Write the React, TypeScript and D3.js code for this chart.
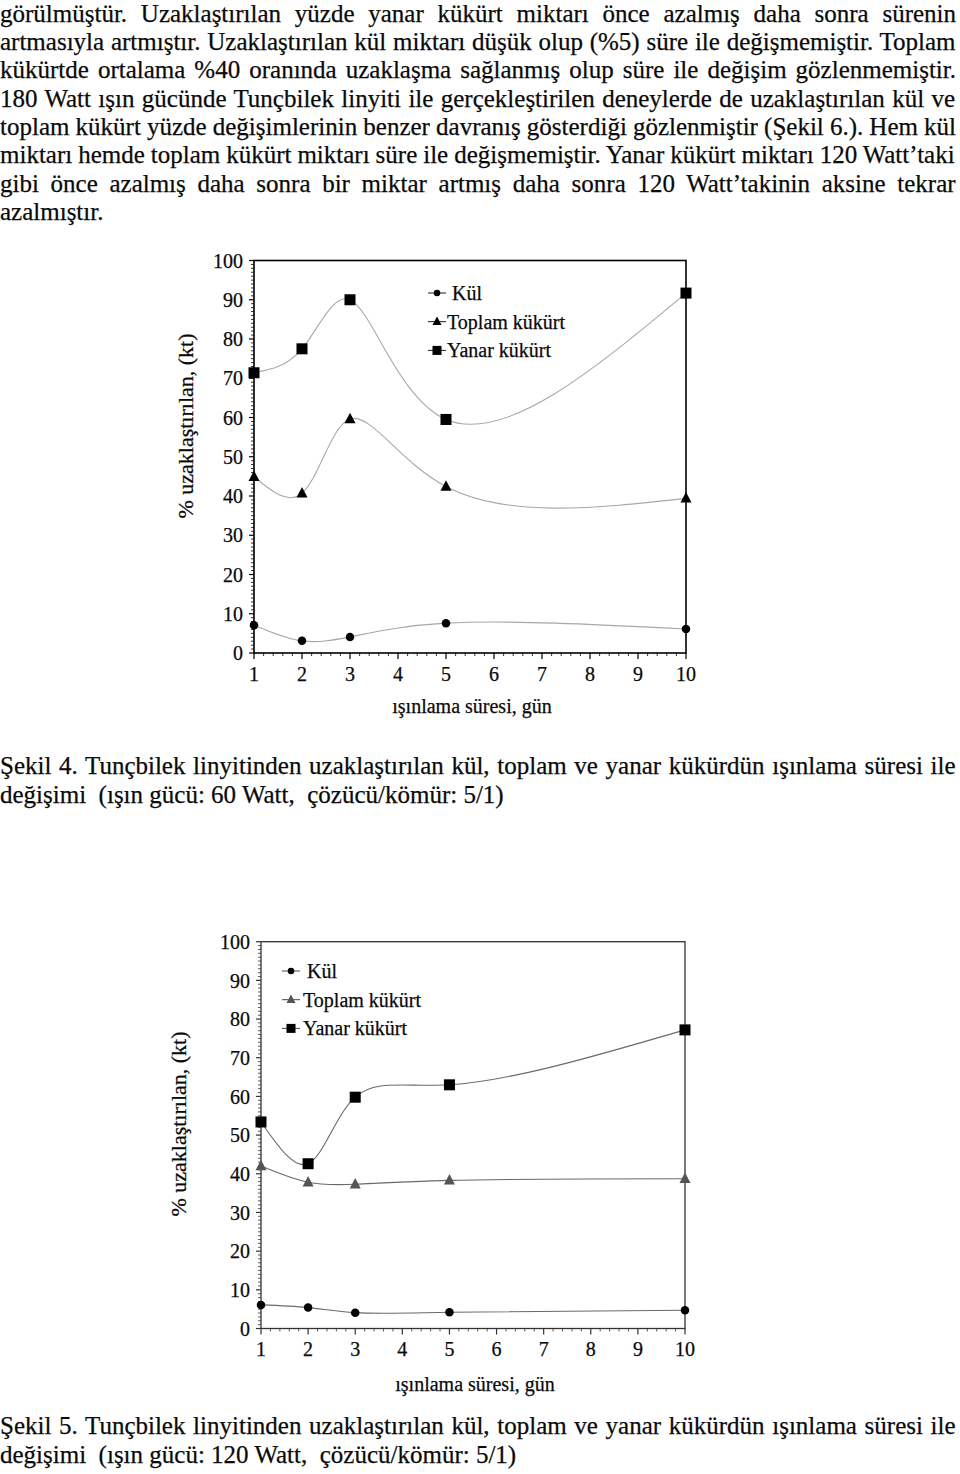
import React from 'react';
import * as d3 from 'd3';

// ---------- text ----------
const paragraphLines = [
  'görülmüştür. Uzaklaştırılan yüzde yanar kükürt miktarı önce azalmış daha sonra sürenin',
  'artmasıyla artmıştır. Uzaklaştırılan kül miktarı düşük olup (%5) süre ile değişmemiştir. Toplam',
  'kükürtde ortalama %40 oranında uzaklaşma sağlanmış olup süre ile değişim gözlenmemiştir.',
  '180 Watt ışın gücünde Tunçbilek linyiti ile gerçekleştirilen deneylerde de uzaklaştırılan kül ve',
  'toplam kükürt yüzde değişimlerinin benzer davranış gösterdiği gözlenmiştir (Şekil 6.). Hem kül',
  'miktarı hemde toplam kükürt miktarı süre ile değişmemiştir. Yanar kükürt miktarı 120 Watt’taki',
  'gibi önce azalmış daha sonra bir miktar artmış daha sonra 120 Watt’takinin aksine tekrar',
  'azalmıştır.',
];
const caption4 = [
  'Şekil 4. Tunçbilek linyitinden uzaklaştırılan kül, toplam ve yanar kükürdün ışınlama süresi ile',
  'değişimi  (ışın gücü: 60 Watt,  çözücü/kömür: 5/1)',
];
const caption5 = [
  'Şekil 5. Tunçbilek linyitinden uzaklaştırılan kül, toplam ve yanar kükürdün ışınlama süresi ile',
  'değişimi  (ışın gücü: 120 Watt,  çözücü/kömür: 5/1)',
];

// ---------- data ----------
const days = [1, 2, 3, 5, 10];
const xTicks = [1, 2, 3, 4, 5, 6, 7, 8, 9, 10];
const yTicks = [0, 10, 20, 30, 40, 50, 60, 70, 80, 90, 100];
const legendLabels = ['Kül', 'Toplam kükürt', 'Yanar kükürt'];
const xTitle = 'ışınlama süresi, gün';
const yTitle = '% uzaklaştırılan, (kt)';

// Şekil 4 (60 Watt)
const kul60 = [7.1, 3.1, 4.1, 7.6, 6.1];
const toplam60 = [44.9, 40.7, 59.6, 42.4, 39.4];
const yanar60 = [71.4, 77.5, 90.0, 59.5, 91.7];

// Şekil 5 (120 Watt)
const kul120 = [6.1, 5.4, 4.1, 4.2, 4.7];
const toplam120 = [42.0, 37.8, 37.3, 38.3, 38.7];
const yanar120 = [53.4, 42.6, 59.8, 63.0, 77.2];

const FONT = "'Liberation Serif', 'Times New Roman', serif";
const BODY_SIZE = 25;

// ---------- parametric natural spline curve (d3 curve factory) ----------
function naturalSecond(v: number[], t: number[]): number[] {
  const n = v.length;
  const M = new Array(n).fill(0);
  if (n < 3) return M;
  const a: number[] = [], b: number[] = [], c: number[] = [], d: number[] = [];
  for (let i = 1; i < n - 1; i++) {
    const h0 = t[i] - t[i - 1], h1 = t[i + 1] - t[i];
    a.push(h0);
    b.push(2 * (h0 + h1));
    c.push(h1);
    d.push(6 * ((v[i + 1] - v[i]) / h1 - (v[i] - v[i - 1]) / h0));
  }
  const m = b.length;
  for (let i = 1; i < m; i++) {
    const w = a[i] / b[i - 1];
    b[i] -= w * c[i - 1];
    d[i] -= w * d[i - 1];
  }
  const sol = new Array(m).fill(0);
  sol[m - 1] = d[m - 1] / b[m - 1];
  for (let i = m - 2; i >= 0; i--) sol[i] = (d[i] - c[i] * sol[i + 1]) / b[i];
  for (let i = 0; i < m; i++) M[i + 1] = sol[i];
  return M;
}

class ParamNatural {
  _context: any;
  _alpha: number;
  _x: number[] = [];
  _y: number[] = [];
  constructor(context: any, alpha: number) {
    this._context = context;
    this._alpha = alpha;
  }
  areaStart() {}
  areaEnd() {}
  lineStart() {
    this._x = [];
    this._y = [];
  }
  point(x: number, y: number) {
    this._x.push(+x);
    this._y.push(+y);
  }
  lineEnd() {
    const xs = this._x, ys = this._y, n = xs.length, ctx = this._context;
    if (!n) return;
    ctx.moveTo(xs[0], ys[0]);
    if (n === 2) {
      ctx.lineTo(xs[1], ys[1]);
      return;
    }
    const t = [0];
    for (let i = 1; i < n; i++) {
      const dl = Math.hypot(xs[i] - xs[i - 1], ys[i] - ys[i - 1]);
      t.push(t[i - 1] + Math.pow(Math.max(dl, 1e-6), this._alpha));
    }
    const Mx = naturalSecond(xs, t), My = naturalSecond(ys, t);
    for (let i = 0; i < n - 1; i++) {
      const h = t[i + 1] - t[i];
      const dxa = (xs[i + 1] - xs[i]) / h - (h * (2 * Mx[i] + Mx[i + 1])) / 6;
      const dxb = (xs[i + 1] - xs[i]) / h + (h * (Mx[i] + 2 * Mx[i + 1])) / 6;
      const dya = (ys[i + 1] - ys[i]) / h - (h * (2 * My[i] + My[i + 1])) / 6;
      const dyb = (ys[i + 1] - ys[i]) / h + (h * (My[i] + 2 * My[i + 1])) / 6;
      ctx.bezierCurveTo(
        xs[i] + (dxa * h) / 3,
        ys[i] + (dya * h) / 3,
        xs[i + 1] - (dxb * h) / 3,
        ys[i + 1] - (dyb * h) / 3,
        xs[i + 1],
        ys[i + 1]
      );
    }
  }
}
const curveParamNatural = (context: any) => new ParamNatural(context, 0.35);

let measureCtx: CanvasRenderingContext2D | null = null;
function measure(text: string, size: number): number {
  if (!measureCtx) {
    const c = document.createElement('canvas');
    measureCtx = c.getContext('2d');
  }
  if (!measureCtx) return text.length * size * 0.45;
  measureCtx.font = `${size}px "Liberation Serif"`;
  return measureCtx.measureText(text).width;
}

type ChartProps = {
  left: number; right: number; top: number; bottom: number;
  kul: number[]; toplam: number[]; yanar: number[];
  curveColor: string; axisColor: string; axisWidth: number; triColor: string;
  legendX: number; legendY: number; legendTextX: number[];
  yTitleX: number; yTitleY: number; xTickY: number; xTitleY: number;
};

function Marker({ kind, cx, cy, s, fill }: { kind: string; cx: number; cy: number; s: number; fill: string }) {
  if (kind === 'circle') return <circle cx={cx} cy={cy} r={s / 2} fill={fill} />;
  if (kind === 'square') return <rect x={cx - s / 2} y={cy - s / 2} width={s} height={s} fill={fill} />;
  const h = s * 0.95;
  return (
    <path
      d={`M${cx},${cy - h * 0.6} L${cx + s / 2},${cy + h * 0.4} L${cx - s / 2},${cy + h * 0.4} Z`}
      fill={fill}
    />
  );
}

const textInk = { fill: '#0a0a0a', stroke: '#0a0a0a', strokeWidth: 0.25 };

function Chart(p: ChartProps) {
  const x = d3.scaleLinear().domain([1, 10]).range([p.left, p.right]);
  const y = d3.scaleLinear().domain([0, 100]).range([p.bottom, p.top]);
  const line = d3
    .line<number>()
    .x((_, i) => x(days[i]))
    .y((d) => y(d))
    .curve(curveParamNatural as any);

  const yMinor = d3.range(0, 101, 1).filter((v) => v % 10 !== 0);
  const xMinor = d3.range(1, 10.001, 0.2).filter((v) => Math.abs(v - Math.round(v)) > 0.01);

  const series = [
    { vals: p.kul, kind: 'circle', size: 8.5, fill: '#000' },
    { vals: p.toplam, kind: 'tri', size: 11, fill: p.triColor },
    { vals: p.yanar, kind: 'square', size: 11, fill: '#000' },
  ];
  const legendSizes = [6.5, 9, 9];

  return (
    <g fontFamily={FONT}>
      {series.map((s, i) => (
        <path key={'c' + i} d={line(s.vals) || ''} fill="none" stroke={p.curveColor} strokeWidth={1.1} />
      ))}
      <rect
        x={p.left}
        y={p.top}
        width={p.right - p.left}
        height={p.bottom - p.top}
        fill="none"
        stroke={p.axisColor}
        strokeWidth={p.axisWidth}
      />
      {yMinor.map((v) => (
        <line key={'ym' + v} x1={p.left - 3} x2={p.left} y1={y(v)} y2={y(v)} stroke={p.axisColor} strokeWidth={0.8} />
      ))}
      {yTicks.map((v) => (
        <g key={'y' + v}>
          <line x1={p.left - 5} x2={p.left} y1={y(v)} y2={y(v)} stroke={p.axisColor} strokeWidth={1.2} />
          <text x={p.left - 11} y={y(v)} dy="0.36em" textAnchor="end" fontSize={20} {...textInk}>
            {v}
          </text>
        </g>
      ))}
      {xMinor.map((v, i) => (
        <line key={'xm' + i} x1={x(v)} x2={x(v)} y1={p.bottom} y2={p.bottom + 3} stroke={p.axisColor} strokeWidth={0.8} />
      ))}
      {xTicks.map((v) => (
        <g key={'x' + v}>
          <line x1={x(v)} x2={x(v)} y1={p.bottom} y2={p.bottom + 6} stroke={p.axisColor} strokeWidth={1.2} />
          <text x={x(v)} y={p.xTickY} textAnchor="middle" fontSize={20} {...textInk}>
            {v}
          </text>
        </g>
      ))}
      {series.map((s, i) =>
        s.vals.map((v, j) => (
          <Marker key={'m' + i + '-' + j} kind={s.kind} cx={x(days[j])} cy={y(v)} s={s.size} fill={s.fill} />
        ))
      )}
      <text x={(p.left + p.right) / 2 + 2} y={p.xTitleY} textAnchor="middle" fontSize={20} {...textInk}>
        {xTitle}
      </text>
      <text
        transform={`translate(${p.yTitleX},${p.yTitleY}) rotate(-90)`}
        textAnchor="middle"
        dy="0.35em"
        fontSize={22}
        {...textInk}
      >
        {yTitle}
      </text>
      {series.map((s, i) => {
        const ly = p.legendY + i * 28.7;
        return (
          <g key={'l' + i}>
            <line x1={p.legendX - 9} x2={p.legendX + 9} y1={ly} y2={ly} stroke={p.axisColor} strokeWidth={0.9} />
            <Marker kind={s.kind} cx={p.legendX} cy={ly} s={legendSizes[i]} fill={s.fill} />
            <text x={p.legendTextX[i]} y={ly} dy="0.35em" fontSize={20} {...textInk}>
              {legendLabels[i]}
            </text>
          </g>
        );
      })}
    </g>
  );
}

function BodyLine({ text, y, justify }: { text: string; y: number; justify?: number }) {
  let wordSpacing = 0;
  if (justify) {
    const w = measure(text, BODY_SIZE);
    const spaces = (text.match(/ /g) || []).length;
    if (spaces > 0) wordSpacing = (justify - w) / spaces;
  }
  return (
    <text
      x={0}
      y={y}
      fontSize={BODY_SIZE}
      fontFamily={FONT}
      {...textInk}
      style={{ whiteSpace: 'pre', wordSpacing: `${wordSpacing}px` }}
    >
      {text}
    </text>
  );
}

export default function App() {
  React.useEffect(() => {
    document.body.style.margin = '0';
  }, []);
  return (
    <svg width={960} height={1474} style={{ display: 'block', background: '#fff' }}>
      <rect x={0} y={0} width={960} height={1474} fill="#fff" />
      {paragraphLines.map((t, i) => (
        <BodyLine key={'p' + i} text={t} y={21.5 + i * 28.35} justify={i < 7 ? 956 : undefined} />
      ))}
      <Chart
        left={254}
        right={686}
        top={260.5}
        bottom={653}
        kul={kul60}
        toplam={toplam60}
        yanar={yanar60}
        curveColor="#a8a8a8"
        axisColor="#000"
        axisWidth={1.6}
        triColor="#000"
        legendX={437}
        legendY={293}
        legendTextX={[452, 447, 447]}
        yTitleX={185}
        yTitleY={426}
        xTickY={681}
        xTitleY={713}
      />
      <BodyLine text={caption4[0]} y={774} justify={956} />
      <BodyLine text={caption4[1]} y={802.5} />
      <Chart
        left={261}
        right={685}
        top={941.7}
        bottom={1328.5}
        kul={kul120}
        toplam={toplam120}
        yanar={yanar120}
        curveColor="#6a6a6a"
        axisColor="#333"
        axisWidth={1.3}
        triColor="#555"
        legendX={291}
        legendY={971}
        legendTextX={[307, 303, 303]}
        yTitleX={178}
        yTitleY={1124}
        xTickY={1356}
        xTitleY={1391}
      />
      <BodyLine text={caption5[0]} y={1434} justify={956} />
      <BodyLine text={caption5[1]} y={1463} />
    </svg>
  );
}
